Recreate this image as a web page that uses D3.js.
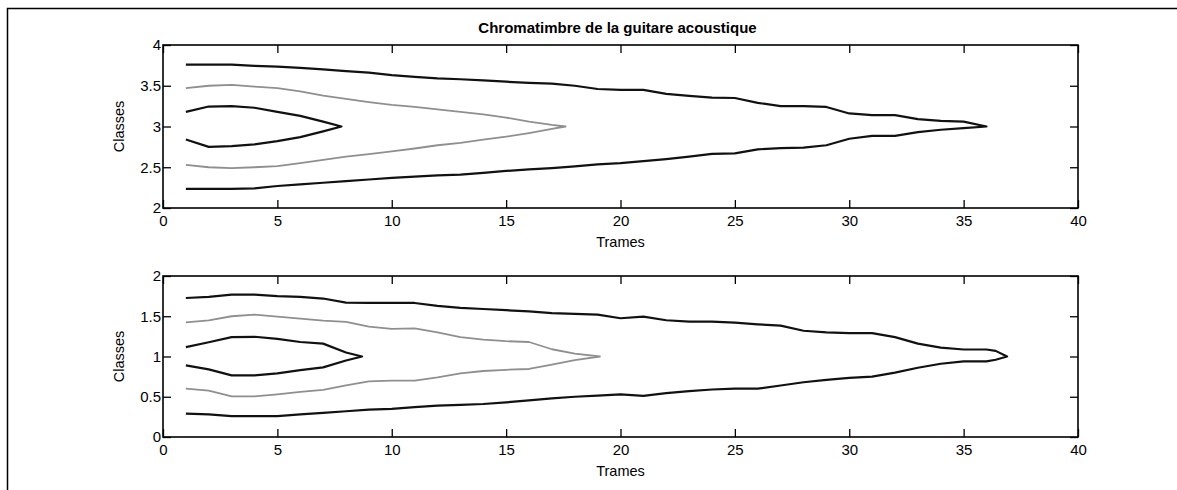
<!DOCTYPE html>
<html>
<head>
<meta charset="utf-8">
<script src="https://cdn.jsdelivr.net/npm/d3@7"></script>
<style>
  body { margin: 0; background: #fff; }
  text { font-family: "Liberation Sans", Arial, sans-serif; fill: #000; }
</style>
</head>
<body>
<div id="chart"></div>
<script>
/* Chart data: contour branches (upper / lower), keyed by frame */
const TITLE = "Chromatimbre de la guitare acoustique"
const X_LABEL = "Trames"
const Y_LABEL = "Classes"
const X_TICKS = [0, 5, 10, 15, 20, 25, 30, 35, 40]
const TOP_Y_TICKS = [2, 2.5, 3, 3.5, 4]
const BOT_Y_TICKS = [0, 0.5, 1, 1.5, 2]

// top panel
const TOP_OUTER_X = [1, 2, 3, 4, 5, 6, 7, 8, 9, 10, 11, 12, 13, 14, 15, 16, 17, 18, 19, 20, 21, 22, 23, 24, 25, 26, 27, 28, 29, 30, 31, 32, 33, 34, 35, 36]
const TOP_OUTER_UP = [3.76, 3.76, 3.76, 3.745, 3.735, 3.72, 3.70, 3.68, 3.66, 3.63, 3.61, 3.59, 3.58, 3.565, 3.55, 3.535, 3.525, 3.50, 3.46, 3.45, 3.45, 3.40, 3.375, 3.355, 3.35, 3.29, 3.25, 3.25, 3.24, 3.16, 3.14, 3.14, 3.09, 3.07, 3.06, 3.0]
const TOP_OUTER_LO = [2.234, 2.234, 2.234, 2.24, 2.27, 2.29, 2.31, 2.33, 2.35, 2.37, 2.385, 2.40, 2.41, 2.43, 2.455, 2.475, 2.49, 2.51, 2.535, 2.55, 2.575, 2.60, 2.63, 2.665, 2.67, 2.72, 2.735, 2.74, 2.77, 2.85, 2.886, 2.886, 2.93, 2.96, 2.98, 3.0]
const TOP_MID_X = [1, 2, 3, 4, 5, 6, 7, 8, 9, 10, 11, 12, 13, 14, 15, 16, 17, 17.6]
const TOP_MID_UP = [3.47, 3.50, 3.51, 3.49, 3.47, 3.43, 3.38, 3.34, 3.30, 3.265, 3.24, 3.21, 3.18, 3.15, 3.11, 3.06, 3.02, 3.0]
const TOP_MID_LO = [2.53, 2.50, 2.49, 2.50, 2.515, 2.55, 2.59, 2.63, 2.66, 2.695, 2.73, 2.77, 2.80, 2.84, 2.875, 2.92, 2.97, 3.0]
const TOP_IN_X = [1, 2, 3, 4, 5, 6, 7, 7.8]
const TOP_IN_UP = [3.18, 3.245, 3.25, 3.23, 3.18, 3.13, 3.06, 3.0]
const TOP_IN_LO = [2.84, 2.75, 2.76, 2.78, 2.82, 2.87, 2.94, 3.0]

// bottom panel
const BOT_OUTER_X = [1, 2, 3, 4, 5, 6, 7, 8, 9, 10, 11, 12, 13, 14, 15, 16, 17, 18, 19, 20, 21, 22, 23, 24, 25, 26, 27, 28, 29, 30, 31, 32, 33, 34, 35, 36, 36.4, 36.9]
const BOT_OUTER_UP = [1.727, 1.74, 1.768, 1.768, 1.75, 1.74, 1.72, 1.67, 1.665, 1.665, 1.665, 1.63, 1.605, 1.59, 1.575, 1.56, 1.54, 1.53, 1.52, 1.475, 1.496, 1.45, 1.434, 1.434, 1.42, 1.40, 1.384, 1.32, 1.30, 1.29, 1.29, 1.24, 1.16, 1.11, 1.087, 1.087, 1.07, 1.0]
const BOT_OUTER_LO = [0.29, 0.28, 0.26, 0.26, 0.26, 0.28, 0.30, 0.32, 0.34, 0.35, 0.37, 0.39, 0.40, 0.41, 0.43, 0.455, 0.48, 0.50, 0.515, 0.529, 0.51, 0.545, 0.57, 0.59, 0.60, 0.60, 0.64, 0.68, 0.71, 0.735, 0.75, 0.80, 0.86, 0.91, 0.94, 0.94, 0.96, 1.0]
const BOT_MID_X = [1, 2, 3, 4, 5, 6, 7, 8, 9, 10, 11, 12, 13, 14, 15, 16, 17, 18, 19.1]
const BOT_MID_UP = [1.425, 1.45, 1.50, 1.52, 1.495, 1.47, 1.446, 1.43, 1.37, 1.343, 1.35, 1.30, 1.24, 1.21, 1.19, 1.18, 1.09, 1.035, 1.0]
const BOT_MID_LO = [0.60, 0.575, 0.505, 0.505, 0.53, 0.56, 0.585, 0.64, 0.69, 0.70, 0.70, 0.74, 0.79, 0.82, 0.835, 0.845, 0.90, 0.955, 1.0]
const BOT_IN_X = [1, 2, 3, 4, 5, 6, 7, 8, 8.7]
const BOT_IN_UP = [1.116, 1.177, 1.24, 1.245, 1.22, 1.18, 1.16, 1.05, 1.0]
const BOT_IN_LO = [0.89, 0.84, 0.765, 0.765, 0.79, 0.83, 0.865, 0.95, 1.0]

/* Layout */
const WIDTH = 1177
const HEIGHT = 490
const PLOT_LEFT = 163
const PLOT_RIGHT = 1078
const TICK = 8
const DARK = "#111"
const GREY = "#8f8f8f"

const svg = d3.select("#chart").append("svg")
              .attr("width", WIDTH)
              .attr("height", HEIGHT);

// scanned page frame
svg.append("path")
   .attr("d", "M7.5," + HEIGHT + " V8.5 H" + WIDTH)
   .attr("fill", "none")
   .attr("stroke", "#000")
   .attr("stroke-width", 1.5);

svg.append("text")
   .attr("x", (PLOT_LEFT + PLOT_RIGHT) / 2 - 3)
   .attr("y", 33)
   .attr("text-anchor", "middle")
   .style("font-size", "15px")
   .style("font-weight", "bold")
   .text(TITLE);

const toPoints = (xs, up, lo) => {
  let pts = xs.map((x, i) => [x, up[i]]);
  for (let i = xs.length - 2; i >= 0; i--) pts.push([xs[i], lo[i]]);
  return pts;
}

const drawPanel = (top, bottom, yDomain, yTicks, contours) => {
  const x = d3.scaleLinear().domain([0, 40]).range([PLOT_LEFT, PLOT_RIGHT]);
  const y = d3.scaleLinear().domain(yDomain).range([bottom, top]);
  const g = svg.append("g");

  const fmt = (d) => d3.format("")(d);
  g.append("g").attr("transform", "translate(0," + bottom + ")")
   .call(d3.axisBottom(x).tickValues(X_TICKS).tickSize(-TICK).tickPadding(7).tickFormat(fmt));
  g.append("g").attr("transform", "translate(0," + top + ")")
   .call(d3.axisTop(x).tickValues(X_TICKS).tickSize(-TICK).tickFormat(""));
  g.append("g").attr("transform", "translate(" + PLOT_LEFT + ",0)")
   .call(d3.axisLeft(y).tickValues(yTicks).tickSize(-TICK).tickPadding(2).tickFormat(fmt));
  g.append("g").attr("transform", "translate(" + PLOT_RIGHT + ",0)")
   .call(d3.axisRight(y).tickValues(yTicks).tickSize(-TICK).tickFormat(""));
  g.selectAll(".domain").remove();
  g.selectAll(".tick line").attr("stroke", "#000").attr("stroke-width", 1.3);
  g.selectAll(".tick text").style("font-size", "15px").style("font-family", "'Liberation Sans', Arial, sans-serif");

  g.append("rect")
   .attr("x", PLOT_LEFT).attr("y", top)
   .attr("width", PLOT_RIGHT - PLOT_LEFT).attr("height", bottom - top)
   .attr("fill", "none").attr("stroke", "#000").attr("stroke-width", 1.6);

  const line = d3.line().x((d) => x(d[0])).y((d) => y(d[1]));
  contours.forEach((c) => {
    g.append("path")
     .attr("d", line(toPoints(c.xs, c.up, c.lo)))
     .attr("fill", "none")
     .attr("stroke", c.color)
     .attr("stroke-width", c.color === DARK ? 2.2 : 1.8)
     .attr("stroke-linejoin", "round");
  });

  g.append("text")
   .attr("x", (PLOT_LEFT + PLOT_RIGHT) / 2)
   .attr("y", bottom + 39)
   .attr("text-anchor", "middle")
   .style("font-size", "14.5px")
   .text(X_LABEL);
  g.append("text")
   .attr("transform", "translate(124," + ((top + bottom) / 2) + ") rotate(-90)")
   .attr("text-anchor", "middle")
   .style("font-size", "14.5px")
   .text(Y_LABEL);
}

drawPanel(45, 208, [2, 4], TOP_Y_TICKS, [
  {xs: TOP_OUTER_X, up: TOP_OUTER_UP, lo: TOP_OUTER_LO, color: DARK},
  {xs: TOP_MID_X, up: TOP_MID_UP, lo: TOP_MID_LO, color: GREY},
  {xs: TOP_IN_X, up: TOP_IN_UP, lo: TOP_IN_LO, color: DARK}
]);
drawPanel(276, 437, [0, 2], BOT_Y_TICKS, [
  {xs: BOT_OUTER_X, up: BOT_OUTER_UP, lo: BOT_OUTER_LO, color: DARK},
  {xs: BOT_MID_X, up: BOT_MID_UP, lo: BOT_MID_LO, color: GREY},
  {xs: BOT_IN_X, up: BOT_IN_UP, lo: BOT_IN_LO, color: DARK}
]);
</script>
</body>
</html>
